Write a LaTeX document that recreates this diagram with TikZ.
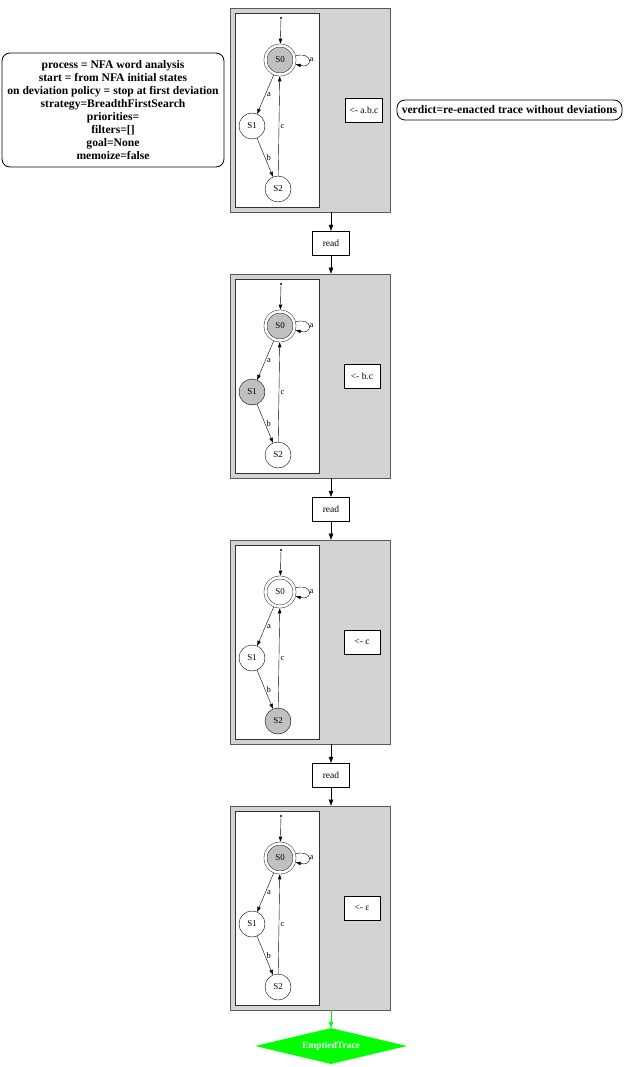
\documentclass[tikz,border=0pt]{standalone}
\usepackage{fontspec}
\setmainfont{Liberation Serif}
\usetikzlibrary{arrows.meta,positioning,shapes.geometric}
\definecolor{frame}{HTML}{D3D3D3}
\definecolor{cur}{HTML}{C0C0C0}
\definecolor{done}{HTML}{00FF00}
\tikzset{
  frm/.style={draw=black!65, line width=0.7pt, fill=frame, minimum width=160pt, minimum height=204pt, inner sep=0pt},
  grf/.style={draw=black!80, fill=white, minimum width=84pt, minimum height=194pt, inner sep=0pt},
  st/.style={draw, circle, fill=white, minimum size=26pt, inner sep=0pt, font=\fontsize{9}{10}\selectfont},
  acc/.style={st, double, double distance=2.6pt, outer sep=1.9pt, minimum size=29pt},
  on/.style={fill=cur},
  ini/.style={circle, fill, inner sep=0pt, minimum size=2.4pt},
  box/.style={draw, rectangle, fill=white, minimum width=37pt, minimum height=24pt, inner sep=3pt, font=\fontsize{9.5}{11}\selectfont},
  info/.style={draw, line width=0.8pt, rounded corners=8pt, align=center, inner sep=3pt, font=\fontsize{11.6}{13}\selectfont\bfseries},
  arr/.style={-{Triangle[length=6pt, width=4.5pt]}},
  tr/.style={-{Triangle[length=5pt, width=3.5pt]}},
  lbl/.style={font=\fontsize{8.5}{9}\selectfont, inner sep=1.5pt}
}
\begin{document}
\begin{tikzpicture}[x=1pt, y=1pt]
\useasboundingbox (0,0) rectangle (625,-1067);
\node[info, minimum width=222pt, minimum height=114pt] (setup) at (113,-110)
  {process = NFA word analysis\\start = from NFA initial states\\on deviation policy = stop at first deviation\\strategy=BreadthFirstSearch\\priorities=\\filters=[]\\goal=None\\memoize=false};
\node[info, minimum width=225pt, minimum height=20pt, inner sep=1pt] (verdict) at (509.5,-110) {verdict=re-enacted trace without deviations};

% step 1
\node[frm] (frame1) at (310,-110) {};
\node[grf] (graph1) at (277,-110) {};
\node[ini] (init1) at (281,-18) {};
\node[acc, on] (p1s0) at (280,-60) {S0};
\node[st] (p1s1) at (252,-126) {S1};
\node[st] (p1s2) at (278,-189) {S2};
\node[box] (rest1) at (364,-110) {<- a.b.c};
\draw[tr] (init1) -- (p1s0);
\draw[tr] (p1s0) to[loop right, min distance=18pt] node[lbl, right, inner sep=0.5pt]{a} (p1s0);
\draw[tr] (p1s0) -- node[lbl, right]{a} (p1s1);
\draw[tr] (p1s1) -- node[lbl, right]{b} (p1s2);
\draw[tr] (p1s2) -- node[lbl, right]{c} (p1s0);
\node[box] (read1) at (331,-243) {read};
\draw[arr] (read1 |- frame1.south) -- (read1);

% step 2
\node[frm] (frame2) at (310,-376) {};
\node[grf] (graph2) at (277,-376) {};
\node[ini] (init2) at (281,-284) {};
\node[acc, on] (p2s0) at (280,-326) {S0};
\node[st, on] (p2s1) at (252,-392) {S1};
\node[st] (p2s2) at (278,-455) {S2};
\node[box, minimum width=36pt] (rest2) at (362,-376) {<- b.c};
\draw[tr] (init2) -- (p2s0);
\draw[tr] (p2s0) to[loop right, min distance=18pt] node[lbl, right, inner sep=0.5pt]{a} (p2s0);
\draw[tr] (p2s0) -- node[lbl, right]{a} (p2s1);
\draw[tr] (p2s1) -- node[lbl, right]{b} (p2s2);
\draw[tr] (p2s2) -- node[lbl, right]{c} (p2s0);
\draw[arr] (read1) -- (read1 |- frame2.north);
\node[box] (read2) at (331,-509) {read};
\draw[arr] (read2 |- frame2.south) -- (read2);

% step 3
\node[frm] (frame3) at (310,-642) {};
\node[grf] (graph3) at (277,-642) {};
\node[ini] (init3) at (281,-550) {};
\node[acc] (p3s0) at (280,-592) {S0};
\node[st] (p3s1) at (252,-658) {S1};
\node[st, on] (p3s2) at (278,-721) {S2};
\node[box, minimum width=36pt] (rest3) at (362,-642) {<- c};
\draw[tr] (init3) -- (p3s0);
\draw[tr] (p3s0) to[loop right, min distance=18pt] node[lbl, right, inner sep=0.5pt]{a} (p3s0);
\draw[tr] (p3s0) -- node[lbl, right]{a} (p3s1);
\draw[tr] (p3s1) -- node[lbl, right]{b} (p3s2);
\draw[tr] (p3s2) -- node[lbl, right]{c} (p3s0);
\draw[arr] (read2) -- (read2 |- frame3.north);
\node[box] (read3) at (331,-775) {read};
\draw[arr] (read3 |- frame3.south) -- (read3);

% step 4
\node[frm] (frame4) at (310,-908) {};
\node[grf] (graph4) at (277,-908) {};
\node[ini] (init4) at (281,-816) {};
\node[acc, on] (p4s0) at (280,-858) {S0};
\node[st] (p4s1) at (252,-924) {S1};
\node[st] (p4s2) at (278,-987) {S2};
\node[box, minimum width=36pt] (rest4) at (362,-908) {<- ε};
\draw[tr] (init4) -- (p4s0);
\draw[tr] (p4s0) to[loop right, min distance=18pt] node[lbl, right, inner sep=0.5pt]{a} (p4s0);
\draw[tr] (p4s0) -- node[lbl, right]{a} (p4s1);
\draw[tr] (p4s1) -- node[lbl, right]{b} (p4s2);
\draw[tr] (p4s2) -- node[lbl, right]{c} (p4s0);
\draw[arr] (read3) -- (read3 |- frame4.north);

\node[diamond, shape aspect=4.2, fill=done, text=white, font=\fontsize{9.5}{10}\selectfont\bfseries, minimum width=152pt, minimum height=36pt, inner sep=0pt] (empty) at (331,-1046) {EmptiedTrace};
\draw[arr, done] (empty |- frame4.south) -- (empty);
\end{tikzpicture}
\end{document}
